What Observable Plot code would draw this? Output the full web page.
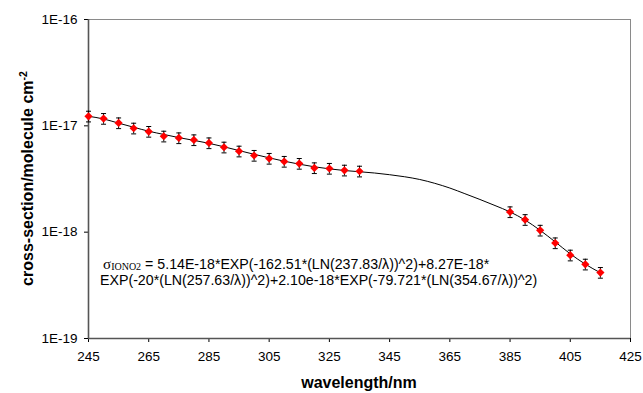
<!DOCTYPE html>
<html><head><meta charset="utf-8">
<script src="https://cdn.jsdelivr.net/npm/d3@7"></script>
<script src="https://cdn.jsdelivr.net/npm/@observablehq/plot@0.6"></script>
<style>
html,body{margin:0;padding:0;background:#fff;}
#chart svg{display:block;}
</style>
</head><body><div id="chart"></div>
<script>
// measured points (nm, cm^2/molecule)
const wavelengths = [245,250,255,260,265,270,275,280,285,290,295,300,305,310,315,320,325,330,335,385,390,395,400,405,410,415];
const crossSections = [1.23e-17,1.17e-17,1.064e-17,9.49e-18,8.84e-18,7.98e-18,7.69e-18,7.37e-18,6.90e-18,6.29e-18,5.77e-18,5.26e-18,4.93e-18,4.62e-18,4.42e-18,4.02e-18,3.97e-18,3.82e-18,3.74e-18,1.55e-18,1.31e-18,1.04e-18,7.91e-19,6.07e-19,4.99e-19,4.17e-19];
const relError = 0.115;

// fitted curve
const curveWavelengths = [245,250,255,260,265,270,275,280,285,290,295,300,305,310,315,320,325,330,335,340,345,350,355,360,365,370,375,380,385,390,395,400,405,410,415];
const curveValues = [1.23e-17,1.16e-17,1.06e-17,9.7e-18,8.9e-18,8.3e-18,7.75e-18,7.3e-18,6.85e-18,6.35e-18,5.85e-18,5.4e-18,5.0e-18,4.65e-18,4.36e-18,4.12e-18,3.94e-18,3.8e-18,3.7e-18,3.6e-18,3.47e-18,3.32e-18,3.13e-18,2.88e-18,2.6e-18,2.3e-18,2.03e-18,1.78e-18,1.55e-18,1.3e-18,1.04e-18,8.1e-19,6.25e-19,5.0e-19,4.15e-19];

const xTicks = [245,265,285,305,325,345,365,385,405,425];
const yTicks = [1e-19,1e-18,1e-17,1e-16];
const xTitle = "wavelength/nm";
const yTitle = "cross-section/molecule cm";
const yTitleSup = "-2";
const formulaSymbol = "σ";
const formulaSub = "IONO2";
const formulaLine1 = " = 5.14E-18*EXP(-162.51*(LN(237.83/λ))^2)+8.27E-18*";
const formulaLine2 = "EXP(-20*(LN(257.63/λ))^2)+2.10e-18*EXP(-79.721*(LN(354.67/λ))^2)";
const formulaAnchor = {wl: 249, value: 4.5e-19};

const points = wavelengths.map((wl, i) => ({wl, v: crossSections[i]}));
const curve = curveWavelengths.map((wl, i) => ({wl, v: curveValues[i]}));

const capSymbol = {
  draw(context, size) {
    const w = Math.sqrt(size / Math.PI);
    context.moveTo(-w, 0);
    context.lineTo(w, 0);
  }
};

const plot = Plot.plot({
  width: 643,
  height: 393,
  marginLeft: 88,
  marginRight: 13,
  marginTop: 19,
  marginBottom: 55,
  style: {fontFamily: "'Liberation Sans', Arial, sans-serif", fontSize: "13.5px", color: "#000", background: "#fff"},
  x: {domain: [245, 425]},
  y: {type: "log", domain: [1e-19, 1e-16]},
  marks: [
    Plot.ruleY([1e-16], {stroke: "#8a8a8a", strokeWidth: 1}),
    Plot.ruleX([425], {stroke: "#8a8a8a", strokeWidth: 1}),
    Plot.axisX({ticks: xTicks, tickSize: 4, tickPadding: 9, label: null, tickFormat: d => String(d)}),
    Plot.axisY({ticks: yTicks, tickSize: 4, tickPadding: 7, label: null, tickFormat: d => "1E" + Math.round(Math.log10(d))}),
    Plot.ruleX([245], {stroke: "#555", strokeWidth: 1.6}),
    Plot.ruleY([1e-19], {stroke: "#555", strokeWidth: 1.6}),
    Plot.line(curve, {x: "wl", y: "v", stroke: "#000", strokeWidth: 1, curve: "monotone-x"}),
    Plot.ruleX(points, {x: "wl", y1: d => d.v * (1 - relError), y2: d => d.v * (1 + relError), stroke: "#000", strokeWidth: 1}),
    Plot.dot(points, {x: "wl", y: d => d.v * (1 - relError), symbol: capSymbol, r: 2.5, stroke: "#000", fill: "none", strokeWidth: 1}),
    Plot.dot(points, {x: "wl", y: d => d.v * (1 + relError), symbol: capSymbol, r: 2.5, stroke: "#000", fill: "none", strokeWidth: 1}),
    Plot.dot(points, {x: "wl", y: "v", symbol: "diamond2", r: 3.7, fill: "#ff0000", stroke: "none"})
  ]
});

document.getElementById("chart").appendChild(plot);

const svg = d3.select(plot);
const xs = plot.scale("x"), ys = plot.scale("y");
const [x0, x1] = xs.range;
const [yb, yt] = ys.range;

// x title
svg.append("text")
  .attr("x", (x0 + x1) / 2).attr("y", 388)
  .attr("text-anchor", "middle")
  .attr("font-family", "'Liberation Sans', Arial, sans-serif")
  .attr("font-weight", "bold").attr("font-size", "16px")
  .attr("fill", "#000")
  .text(xTitle);

// y title
const yt2 = svg.append("text")
  .attr("transform", `translate(33,${(yb + yt) / 2}) rotate(-90)`)
  .attr("text-anchor", "middle")
  .attr("font-family", "'Liberation Sans', Arial, sans-serif")
  .attr("font-weight", "bold").attr("font-size", "16px")
  .attr("fill", "#000");
yt2.append("tspan").text(yTitle);
yt2.append("tspan").attr("dy", -6).attr("font-size", "10.5px").text(yTitleSup);

// formula annotation
const ax = xs.apply(formulaAnchor.wl), ay = ys.apply(formulaAnchor.value);
const f1 = svg.append("text")
  .attr("x", ax + 3).attr("y", ay)
  .attr("text-anchor", "start")
  .attr("font-family", "'Liberation Sans', Arial, sans-serif")
  .attr("font-size", "14.2px").attr("fill", "#000");
f1.append("tspan").attr("font-family", "'Liberation Serif', 'Times New Roman', serif").attr("font-size", "15px").text(formulaSymbol);
f1.append("tspan").attr("font-family", "'Liberation Serif', 'Times New Roman', serif").attr("font-size", "10px").attr("dy", 1).text(formulaSub);
f1.append("tspan").attr("dy", -1).text(formulaLine1);
svg.append("text")
  .attr("x", ax).attr("y", ay + 16)
  .attr("text-anchor", "start")
  .attr("font-family", "'Liberation Sans', Arial, sans-serif")
  .attr("font-size", "14.2px").attr("fill", "#000")
  .text(formulaLine2);
</script>
</body></html>
